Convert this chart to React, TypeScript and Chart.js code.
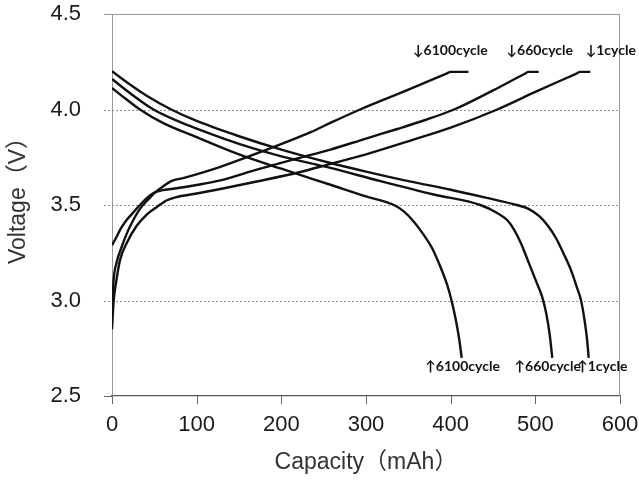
import React, { useEffect, useRef } from 'react';
import { Chart, registerables } from 'chart.js';

Chart.register(...registerables);

// ---- data (capacity in mAh, voltage in V) ----
const dis1X = [0, 20, 40, 70, 100, 150, 200, 258, 300, 350, 400, 440, 478, 492, 505, 515, 524, 534, 542, 549, 554, 558, 561, 563];
const dis1Y = [4.2, 4.135, 4.075, 4.0, 3.94, 3.86, 3.79, 3.72, 3.675, 3.625, 3.58, 3.54, 3.5, 3.48, 3.44, 3.39, 3.33, 3.24, 3.16, 3.07, 3.0, 2.9, 2.8, 2.7];

const dis660X = [0, 20, 49, 80, 100, 150, 200, 258, 317, 380, 435, 455, 467, 475, 483, 492, 501, 508, 513, 517, 520];
const dis660Y = [4.16, 4.09, 4.0, 3.935, 3.9, 3.82, 3.755, 3.694, 3.625, 3.555, 3.5, 3.458, 3.42, 3.37, 3.3, 3.2, 3.1, 3.02, 2.93, 2.82, 2.7];

const dis6100X = [0, 15, 33, 60, 100, 150, 200, 258, 300, 333, 345, 357, 368, 378, 388, 396, 401, 406, 410, 413];
const dis6100Y = [4.113, 4.06, 4.0, 3.93, 3.855, 3.765, 3.69, 3.606, 3.545, 3.5, 3.465, 3.41, 3.345, 3.275, 3.175, 3.08, 3.0, 2.9, 2.8, 2.7];

const chg6100X = [0, 1.6, 5.5, 11.4, 17.4, 25, 33, 43, 51, 61, 70, 85, 128, 171, 234, 258, 293, 348, 395, 400, 421];
const chg6100Y = [2.92, 3.09, 3.2, 3.28, 3.35, 3.42, 3.48, 3.53, 3.566, 3.6, 3.625, 3.642, 3.7, 3.77, 3.88, 3.93, 4.0, 4.1, 4.188, 4.197, 4.197];

const chg660X = [0, 5, 9.5, 17, 25, 33, 41, 49, 60, 72, 100, 128, 171, 220, 258, 300, 337, 370, 404, 450, 487, 492, 504];
const chg660Y = [3.29, 3.33, 3.37, 3.42, 3.46, 3.5, 3.536, 3.563, 3.578, 3.585, 3.605, 3.629, 3.685, 3.745, 3.79, 3.848, 3.898, 3.945, 4.0, 4.1, 4.186, 4.197, 4.197];

const chg1X = [0, 2, 5, 9.4, 17.3, 29, 41, 53, 65, 75, 100, 128, 171, 220, 258, 300, 356, 400, 455, 500, 548, 553, 565];
const chg1Y = [2.85, 3.0, 3.1, 3.21, 3.3, 3.39, 3.45, 3.49, 3.525, 3.54, 3.56, 3.584, 3.623, 3.67, 3.715, 3.765, 3.842, 3.905, 4.0, 4.092, 4.187, 4.197, 4.197];

const curveNames = ['discharge 1cycle', 'discharge 660cycle', 'discharge 6100cycle', 'charge 6100cycle', 'charge 660cycle', 'charge 1cycle'];
const curveXs = [dis1X, dis660X, dis6100X, chg6100X, chg660X, chg1X];
const curveYs = [dis1Y, dis660Y, dis6100Y, chg6100Y, chg660Y, chg1Y];

// annotation labels (anchored at data coordinates, left edge / vertical middle)
const noteTexts = ['↓6100cycle', '↓660cycle', '↓1cycle', '↑6100cycle', '↑660cycle', '↑1cycle'];
const noteX = [355.6, 466, 559.4, 370, 475.5, 549.5];
const noteY = [4.31, 4.31, 4.31, 2.657, 2.657, 2.657];

const gridValues = [3.0, 3.5, 4.0];
const xTitle = 'Capacity（mAh）';
const yTitle = 'Voltage（V）';

const FONT = "'Liberation Sans', Arial, 'Noto Sans CJK JP', sans-serif";

const framePlugin = {
  id: 'frame',
  beforeDatasetsDraw(chart: any) {
    const { ctx, chartArea } = chart;
    const { left, right, top, bottom } = chartArea;
    const y = chart.scales.y;
    const x = chart.scales.x;
    ctx.save();
    ctx.lineWidth = 1;
    ctx.strokeStyle = '#8c8c8c';
    ctx.setLineDash([2, 2]);
    for (const v of gridValues) {
      const py = Math.round(y.getPixelForValue(v)) + 0.5;
      ctx.beginPath();
      ctx.moveTo(left - 8, py);
      ctx.lineTo(right, py);
      ctx.stroke();
    }
    ctx.setLineDash([]);
    ctx.strokeStyle = '#999';
    const t = Math.round(top) + 0.5;
    ctx.beginPath();
    ctx.moveTo(left - 8, t);
    ctx.lineTo(right, t);
    ctx.stroke();
    const r = Math.round(right) - 0.5;
    ctx.beginPath();
    ctx.moveTo(r, top);
    ctx.lineTo(r, bottom);
    ctx.stroke();
    // tick marks
    ctx.strokeStyle = '#666';
    const b = Math.round(bottom) + 0.5;
    ctx.beginPath();
    ctx.moveTo(left - 8, b);
    ctx.lineTo(left, b);
    ctx.stroke();
    for (const tk of x.ticks) {
      const px = Math.round(x.getPixelForValue(tk.value)) + 0.5;
      ctx.beginPath();
      ctx.moveTo(px, bottom);
      ctx.lineTo(px, bottom + 8);
      ctx.stroke();
    }
    ctx.restore();
  },
  afterDraw(chart: any) {
    const { ctx } = chart;
    const xs = chart.scales.x;
    const ys = chart.scales.y;
    ctx.save();
    ctx.fillStyle = '#111';
    ctx.font = "bold 14px Lato, 'DejaVu Sans', sans-serif";
    ctx.textAlign = 'left';
    ctx.textBaseline = 'middle';
    noteTexts.forEach((txt, i) => {
      ctx.fillText(txt, xs.getPixelForValue(noteX[i]), ys.getPixelForValue(noteY[i]));
    });
    // y axis title
    ctx.fillStyle = '#333';
    ctx.font = `23px ${FONT}`;
    ctx.translate(19, 195);
    ctx.rotate(-Math.PI / 2);
    ctx.textAlign = 'center';
    ctx.fillText(yTitle, 0, 0);
    ctx.restore();
  },
};

export default function App() {
  const ref = useRef<HTMLCanvasElement | null>(null);
  useEffect(() => {
    if (!ref.current) return;
    const datasets = curveNames.map((name, i) => ({
      label: name,
      data: curveXs[i].map((x, j) => ({ x, y: curveYs[i][j] })),
      borderColor: '#111',
      borderWidth: 2.4,
      pointRadius: 0,
      fill: false,
      cubicInterpolationMode: 'monotone' as const,
    }));
    const chart = new Chart(ref.current, {
      type: 'line',
      data: { datasets },
      plugins: [framePlugin],
      options: {
        animation: false,
        responsive: false,
        maintainAspectRatio: false,
        layout: { padding: { top: 14, right: 19, left: 0, bottom: 0 } },
        plugins: { legend: { display: false }, tooltip: { enabled: false } },
        scales: {
          x: {
            type: 'linear',
            min: 0,
            max: 600,
            afterFit: (s: any) => { s.height = 94; },
            ticks: { stepSize: 100, padding: 0, color: '#1a1a1a', font: { family: FONT, size: 22 } },
            grid: { drawOnChartArea: false, drawTicks: true, tickLength: 16, tickColor: 'transparent' },
            border: { display: true, color: '#555', width: 1.2 },
            title: { display: true, text: xTitle, color: '#333', font: { family: FONT, size: 23 }, padding: { top: 0, bottom: 14 } },
          },
          y: {
            type: 'linear',
            min: 2.5,
            max: 4.5,
            afterFit: (s: any) => { s.width = 112; },
            ticks: { stepSize: 0.5, padding: 0, color: '#1a1a1a', font: { family: FONT, size: 22 }, callback: (v: any) => Number(v).toFixed(1) },
            grid: { drawOnChartArea: false, drawTicks: true, tickLength: 31, tickColor: 'transparent' },
            border: { display: true, color: '#999', width: 1 },
          },
        },
      },
    });
    return () => chart.destroy();
  }, []);
  return (
    <div style={{ position: 'fixed', left: 0, top: 0, width: 639, height: 490, background: '#fff' }}>
      <canvas ref={ref} width={639} height={490} />
    </div>
  );
}
